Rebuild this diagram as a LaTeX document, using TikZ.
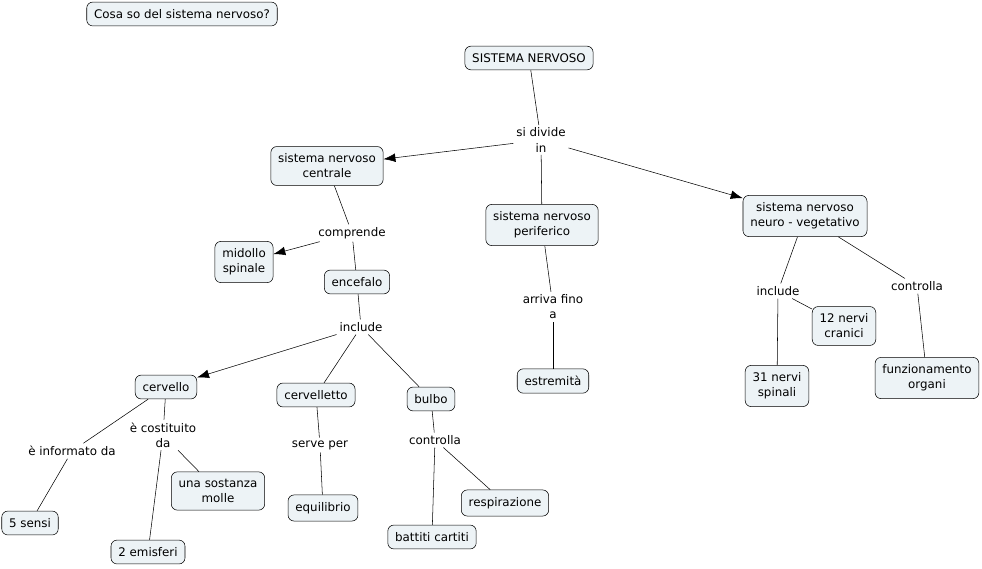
\documentclass[tikz,border=0pt]{standalone}
\usepackage{fontspec}
\setmainfont{DejaVu Sans}
\usetikzlibrary{arrows.meta}
\definecolor{cmapfill}{RGB}{237,243,246}
\begin{document}
\begin{tikzpicture}[x=0.75pt,y=-0.75pt,
        concept/.style={draw,rounded corners=4.5pt,fill=cmapfill,align=center,inner xsep=5.5pt,inner ysep=5.5pt,font=\fontsize{8.9}{11.3}\selectfont},
        link/.style={align=center,inner sep=2pt,font=\fontsize{8.9}{11.3}\selectfont},
        arr/.style={-{Latex[length=9pt,width=6.5pt]}}]
        \useasboundingbox (0,0) rectangle (982,568);
        \node[concept] (domanda) at (182,14) {Cosa so del sistema nervoso?};
        \node[concept] (sn) at (529,58) {SISTEMA NERVOSO};
        \node[link] (divide) at (541,140) {si divide\\in};
        \node[concept] (snc) at (327,166) {sistema nervoso\\centrale};
        \node[concept] (snp) at (542,225) {sistema nervoso\\periferico};
        \node[concept] (snv) at (805,216) {sistema nervoso\\neuro - vegetativo};
        \node[link] (comprende) at (352,233) {comprende};
        \node[concept] (midollo) at (244,262) {midollo\\spinale};
        \node[concept] (encefalo) at (357,282) {encefalo};
        \node[link] (include) at (361,327) {include};
        \node[concept] (cervello) at (166,387) {cervello};
        \node[concept] (cervelletto) at (316,395) {cervelletto};
        \node[concept] (bulbo) at (431,399) {bulbo};
        \node[link] (informato) at (72,451) {è informato da};
        \node[link] (costituito) at (163,435) {è costituito\\da};
        \node[link] (serve) at (320,445) {serve per};
        \node[link] (controllab) at (435,440) {controlla};
        \node[concept] (sostanza) at (218,491) {una sostanza\\molle};
        \node[concept] (sensi) at (30,523) {5 sensi};
        \node[concept] (emisferi) at (148,552) {2 emisferi};
        \node[concept] (equilibrio) at (323,508) {equilibrio};
        \node[concept] (respirazione) at (505,503) {respirazione};
        \node[concept] (battiti) at (432,537) {battiti cartiti};
        \node[link] (arriva) at (553,307) {arriva fino\\a};
        \node[concept] (estremita) at (553,381) {estremità};
        \node[link] (includev) at (778,291) {include};
        \node[link] (controllav) at (917,286) {controlla};
        \node[concept] (cranici) at (844,326) {12 nervi\\cranici};
        \node[concept] (spinali) at (777,386) {31 nervi\\spinali};
        \node[concept] (organi) at (927,378) {funzionamento\\organi};
        % collegamenti senza freccia
        \foreach \a/\b in {sn/divide,divide/snp,snc/comprende,comprende/encefalo,encefalo/include,
            include/cervelletto,include/bulbo,cervello/informato,informato/sensi,cervello/costituito,
            costituito/emisferi,costituito/sostanza,cervelletto/serve,serve/equilibrio,bulbo/controllab,
            controllab/battiti,controllab/respirazione,snp/arriva,arriva/estremita,snv/includev,
            includev/spinali,includev/cranici,snv/controllav,controllav/organi}
            \draw (\a) -- (\b);
        % collegamenti con freccia
        \foreach \a/\b in {divide/snc,divide/snv,comprende/midollo,include/cervello}
            \draw[arr] (\a) -- (\b);
    \end{tikzpicture}
\end{document}
